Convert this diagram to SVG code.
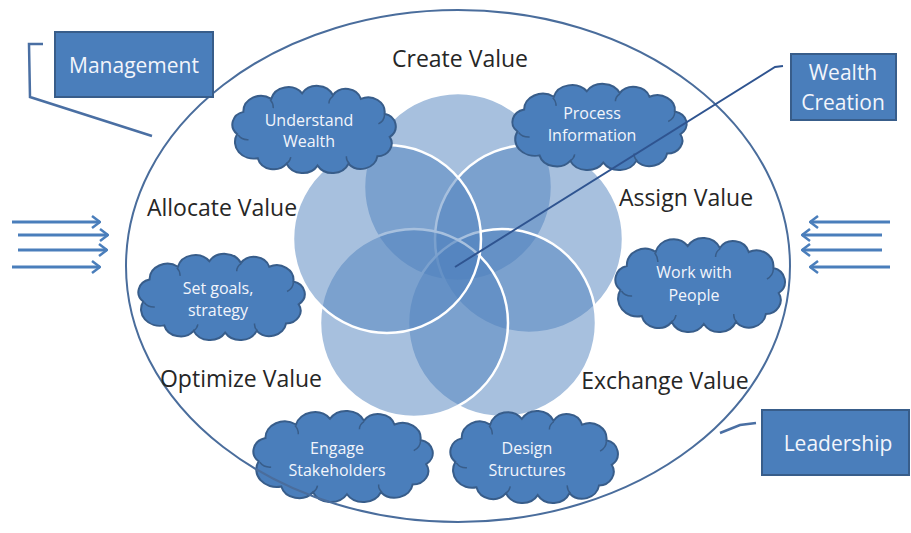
<svg xmlns="http://www.w3.org/2000/svg" xmlns:xlink="http://www.w3.org/1999/xlink" width="911" height="533" viewBox="0 0 911 533">
<style>
.lbl{font-family:"Open Sans","Liberation Sans",sans-serif;font-size:23px;fill:#262626;text-anchor:middle;dominant-baseline:central}
.box{fill:#4a7ebb;stroke:#385d8a;stroke-width:2}
.boxt{font-family:"Open Sans","Liberation Sans",sans-serif;font-size:21px;fill:#f2f5fb;text-anchor:middle;dominant-baseline:central}
.ct{font-family:"Open Sans","Liberation Sans",sans-serif;font-size:16px;fill:#f2f5fb;text-anchor:middle;dominant-baseline:central}
.cloud{fill:#4a7ebb;stroke:#385d8a;stroke-width:2}
.cin{fill:none;stroke:#385d8a;stroke-width:1.5}
.pet{fill:#4f81bd;fill-opacity:0.5;stroke:#ffffff;stroke-width:2.5}
.conn{fill:none;stroke:#4a6fa3;stroke-width:2.5}
.arr{fill:none;stroke:#4a7ebb;stroke-width:3;marker-end:url(#chev)}
</style>
<defs>
<marker id="chev" viewBox="0 0 10 14" refX="9" refY="7" markerWidth="10" markerHeight="14" markerUnits="userSpaceOnUse" orient="auto">
<path d="M1,1 L9,7 L1,13" fill="none" stroke="#4a7ebb" stroke-width="2.5"/>
</marker>
<g id="cloudShape">
<path class="cloud" vector-effect="non-scaling-stroke" d="M12,54 A14,14 0 0 1 18,30 A17,17 0 0 1 45,16 A17,17 0 0 1 75,10 A17,17 0 0 1 105,12 A15,15 0 0 1 132,16 A16,16 0 0 1 155,32 A14,14 0 0 1 160,57 A14,14 0 0 1 148,78 A16,16 0 0 1 120,86 A17,17 0 0 1 90,88 A17,17 0 0 1 60,86 A16,16 0 0 1 32,80 A18,18 0 0 1 12,54 Z"/>
<path class="cin" vector-effect="non-scaling-stroke" d="M13,55 A11,11 0 0 0 23,60 M44,17 A13,13 0 0 1 47,26 M105,13 A10,10 0 0 0 101,21 M155,33 A12,12 0 0 1 149,43 M121,86 A10,10 0 0 1 118,78 M60,86 A11,11 0 0 0 64,79"/>
</g>
</defs>
<rect width="911" height="533" fill="#ffffff"/>

<g id="flower">
<circle class="pet" cx="458" cy="187" r="94"/>
<circle class="pet" cx="529" cy="239" r="94"/>
<circle class="pet" cx="502" cy="323" r="94"/>
<circle class="pet" cx="414" cy="323" r="94"/>
<circle class="pet" cx="387" cy="239" r="94"/>
</g>

<g id="cloud-understand">
<use xlink:href="#cloudShape" transform="translate(232,85) scale(1.031,0.926) translate(-7,-1)"/>
<text class="ct" x="309" y="120">Understand</text>
<text class="ct" x="309" y="141">Wealth</text>
</g>
<g id="cloud-process">
<use xlink:href="#cloudShape" transform="translate(512,83) scale(1.10,0.916) translate(-7,-1)"/>
<text class="ct" x="592" y="113">Process</text>
<text class="ct" x="592" y="135">Information</text>
</g>
<g id="cloud-goals">
<use xlink:href="#cloudShape" transform="translate(138,253) scale(1.05,0.916) translate(-7,-1)"/>
<text class="ct" x="218" y="288">Set goals,</text>
<text class="ct" x="218" y="310">strategy</text>
</g>
<g id="cloud-people">
<use xlink:href="#cloudShape" transform="translate(615,237) scale(1.07,1.0) translate(-7,-1)"/>
<text class="ct" x="694" y="272">Work with</text>
<text class="ct" x="694" y="295">People</text>
</g>
<g id="cloud-engage">
<use xlink:href="#cloudShape" transform="translate(253,410) scale(1.132,0.968) translate(-7,-1)"/>
<text class="ct" x="337" y="448">Engage</text>
<text class="ct" x="337" y="470">Stakeholders</text>
</g>
<g id="cloud-design">
<use xlink:href="#cloudShape" transform="translate(450,410) scale(1.057,0.979) translate(-7,-1)"/>
<text class="ct" x="527" y="448">Design</text>
<text class="ct" x="527" y="470">Structures</text>
</g>

<g id="boundary">
<ellipse cx="458" cy="266" rx="332" ry="256" fill="none" stroke="#4a6d9c" stroke-width="2"/>
</g>

<g id="label-create"><text class="lbl" x="460" y="58">Create Value</text></g>
<g id="label-allocate"><text class="lbl" x="222" y="207">Allocate Value</text></g>
<g id="label-assign"><text class="lbl" x="686" y="197">Assign Value</text></g>
<g id="label-optimize"><text class="lbl" x="241" y="378">Optimize Value</text></g>
<g id="label-exchange"><text class="lbl" x="665" y="380">Exchange Value</text></g>

<g id="box-management">
<rect class="box" x="55" y="32" width="158" height="65"/>
<text class="boxt" x="134" y="65">Management</text>
</g>
<g id="box-wealth">
<rect class="box" x="791" y="54" width="105" height="66"/>
<text class="boxt" x="843" y="72">Wealth</text>
<text class="boxt" x="843" y="102">Creation</text>
</g>
<g id="box-leadership">
<rect class="box" x="762" y="410" width="147" height="65"/>
<text class="boxt" x="838" y="443">Leadership</text>
</g>

<g id="connectors">
<path class="conn" d="M43,44 L29,44 L30,97 L152,136"/>
<path fill="none" stroke="#2f5490" stroke-width="2" d="M783,66 L775,67 L455,267"/>
<path class="conn" stroke-width="2" d="M756,423 L740,425 L720,433"/>
<line class="arr" x1="12" y1="222" x2="100" y2="222"/>
<line class="arr" x1="18" y1="235" x2="108" y2="235"/>
<line class="arr" x1="18" y1="250" x2="107" y2="250"/>
<line class="arr" x1="12" y1="267" x2="100" y2="267"/>
<line class="arr" x1="890" y1="222" x2="810" y2="222"/>
<line class="arr" x1="882" y1="235" x2="802" y2="235"/>
<line class="arr" x1="882" y1="250" x2="802" y2="250"/>
<line class="arr" x1="890" y1="267" x2="810" y2="267"/>
</g>
</svg>
